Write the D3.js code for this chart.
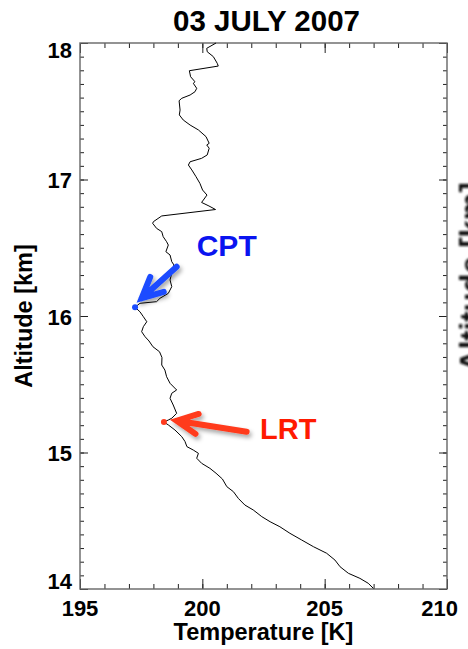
<!DOCTYPE html>
<html>
<head>
<meta charset="utf-8">
<script src="https://cdn.jsdelivr.net/npm/d3@7"></script>
<style>
  body { margin: 0; background: #fff; }
  svg { display: block; }
  text { font-family: "Liberation Sans", Arial, Helvetica, sans-serif; font-weight: bold; }
</style>
</head>
<body>
<svg id="chart" width="468" height="649"></svg>
<script>
// Radiosonde temperature profile, 03 July 2007 (top of profile first)
const altitude = [
  18.000, 17.961, 17.936, 17.900, 17.851, 17.831, 17.797, 17.753, 17.716, 17.705,
  17.668, 17.643, 17.619, 17.595, 17.577, 17.509, 17.473, 17.436, 17.399, 17.363,
  17.314, 17.265, 17.253, 17.229, 17.180, 17.155, 17.130, 17.106, 17.070, 17.021,
  16.972, 16.923, 16.886, 16.832, 16.806, 16.780, 16.733, 16.691, 16.679, 16.642,
  16.618, 16.581, 16.544, 16.520, 16.471, 16.447, 16.398, 16.374, 16.313, 16.264,
  16.215, 16.166, 16.130, 16.105, 16.093, 16.064, 16.031, 15.995, 15.958, 15.922,
  15.885, 15.848, 15.817, 15.775, 15.738, 15.696, 15.641, 15.604, 15.555, 15.507,
  15.458, 15.434, 15.397, 15.348, 15.287, 15.251, 15.238, 15.223, 15.202, 15.165,
  15.116, 15.081, 15.043, 15.018, 14.994, 14.958, 14.921, 14.884, 14.848, 14.806,
  14.750, 14.713, 14.664, 14.615, 14.579, 14.530, 14.493, 14.456, 14.408, 14.359,
  14.310, 14.262, 14.212, 14.163, 14.115, 14.078, 14.042, 14.005
];
const temperature = [
  200.56, 200.18, 200.20, 200.45, 200.61, 200.65, 199.47, 199.52, 199.70, 199.63,
  199.77, 199.70, 199.50, 199.16, 199.05, 199.09, 199.06, 199.22, 199.50, 199.84,
  200.15, 200.28, 200.18, 200.28, 200.20, 199.97, 199.50, 199.43, 199.57, 199.74,
  199.90, 200.01, 200.19, 199.97, 200.27, 200.54, 198.34, 198.00, 197.97, 198.13,
  198.34, 198.40, 198.54, 198.61, 198.51, 198.68, 198.75, 198.84, 198.75, 198.68,
  198.75, 198.61, 198.27, 198.13, 197.45, 197.25, 197.45, 197.59, 197.73, 197.59,
  197.52, 197.66, 197.82, 197.98, 198.25, 198.35, 198.34, 198.47, 198.54, 198.68,
  198.95, 198.75, 198.68, 198.81, 198.95, 198.75, 198.61, 198.43, 198.61, 198.88,
  199.16, 199.29, 199.37, 199.63, 199.84, 199.77, 199.97, 200.31, 200.56, 200.82,
  201.00, 201.27, 201.47, 201.74, 202.08, 202.43, 202.77, 203.17, 203.58, 204.06,
  204.54, 205.08, 205.42, 205.63, 205.97, 206.44, 206.78, 206.99
];

// Tropopause markers: cold point (CPT) and lapse-rate tropopause (LRT)
const markerNames = ["CPT", "LRT"];
const markerTemperature = [197.25, 198.43];
const markerAltitude = [16.064, 15.223];

const xTickValues = [195, 200, 205, 210];
const yTickValues = [14, 15, 16, 17, 18];

const titleText = "03 JULY 2007";
const xTitle = "Temperature [K]";
const yTitle = "Altitude [km]";

const svg = d3.select("#chart");
const W = 468, H = 649;
const margin = { top: 43, right: 21, bottom: 60, left: 80 };

const x = d3.scaleLinear().domain([195, 210]).range([margin.left, W - margin.right]);
const y = d3.scaleLinear().domain([14, 18]).range([H - margin.bottom, margin.top]);

const defs = svg.append("defs");
const shadow = defs.append("filter").attr("id", "shadow")
  .attr("x", "-50%").attr("y", "-50%").attr("width", "200%").attr("height", "200%");
shadow.append("feDropShadow").attr("dx", 2).attr("dy", 3).attr("stdDeviation", 2)
  .attr("flood-color", "#000").attr("flood-opacity", 0.35);
const soft = defs.append("filter").attr("id", "soft");
soft.append("feGaussianBlur").attr("stdDeviation", 1.1);

// Label of the neighbouring panel, cut by the right edge
svg.append("text")
  .attr("transform", `translate(482,277) rotate(-90)`)
  .attr("text-anchor", "middle")
  .attr("font-size", 31)
  .attr("fill", "#111")
  .attr("filter", "url(#soft)")
  .text(yTitle);

// Inward ticks on all four sides
const minorX = d3.range(195, 210.001, 1);
const minorY = d3.range(14, 18.0001, 0.1);
function tickAxis(axisGen, transform) {
  const g = svg.append("g").attr("transform", transform).call(axisGen);
  g.select(".domain").remove();
  g.selectAll("text").remove();
  g.selectAll(".tick line").attr("stroke", "#222").attr("stroke-width", 1);
  return g;
}
tickAxis(d3.axisBottom(x).tickValues(minorX).tickSize(-5), `translate(0,${y(14)})`);
tickAxis(d3.axisBottom(x).tickValues(xTickValues).tickSize(-10), `translate(0,${y(14)})`);
tickAxis(d3.axisTop(x).tickValues(minorX).tickSize(-5), `translate(0,${y(18)})`);
tickAxis(d3.axisTop(x).tickValues(xTickValues).tickSize(-10), `translate(0,${y(18)})`);
tickAxis(d3.axisLeft(y).tickValues(minorY).tickSize(-4), `translate(${x(195)},0)`);
tickAxis(d3.axisLeft(y).tickValues(yTickValues).tickSize(-8), `translate(${x(195)},0)`);
tickAxis(d3.axisRight(y).tickValues(minorY).tickSize(-4), `translate(${x(210)},0)`);
tickAxis(d3.axisRight(y).tickValues(yTickValues).tickSize(-8), `translate(${x(210)},0)`);

// Frame
svg.append("rect")
  .attr("x", x(195)).attr("y", y(18))
  .attr("width", x(210) - x(195)).attr("height", y(14) - y(18))
  .attr("fill", "none").attr("stroke", "#666").attr("stroke-width", 1.4);

// Tick labels
svg.append("g").selectAll("text").data(xTickValues).join("text")
  .attr("x", (d, i) => i === xTickValues.length - 1 ? x(d) + 11 : x(d))
  .attr("y", y(14) + 27)
  .attr("text-anchor", (d, i) => i === xTickValues.length - 1 ? "end" : "middle")
  .attr("font-size", 22)
  .attr("fill", "#000")
  .text(d => d);

svg.append("g").selectAll("text").data(yTickValues).join("text")
  .attr("x", x(195) - 8)
  .attr("y", d => d === 18 ? y(d) + 15 : d === 14 ? y(d) : y(d) + 8.5)
  .attr("text-anchor", "end")
  .attr("font-size", 22)
  .attr("fill", "#000")
  .text(d => d);

// Titles
svg.append("text")
  .attr("x", (x(195) + x(210)) / 2 + 3).attr("y", 31)
  .attr("text-anchor", "middle").attr("font-size", 29.5).attr("fill", "#000")
  .text(titleText);
svg.append("text")
  .attr("x", (x(195) + x(210)) / 2).attr("y", y(14) + 51)
  .attr("text-anchor", "middle").attr("font-size", 23.5).attr("fill", "#000")
  .text(xTitle);
svg.append("text")
  .attr("transform", `translate(32,${(y(14) + y(18)) / 2}) rotate(-90)`)
  .attr("text-anchor", "middle").attr("font-size", 23.5).attr("fill", "#000")
  .text(yTitle);

// Profile
const line = d3.line()
  .x((d, i) => x(temperature[i]))
  .y((d, i) => y(altitude[i]));
svg.append("path")
  .datum(altitude)
  .attr("d", line)
  .attr("fill", "none")
  .attr("stroke", "#000")
  .attr("stroke-width", 1)
  .attr("stroke-linejoin", "miter");

// Callouts: arrow tail, arrow tip and label anchor in data units
const callouts = [
  { color: "#1a4bff", text: "#0a14f0", tail: [198.95, 16.361], tip: [197.52, 16.130], label: [199.77, 16.44], size: 30 },
  { color: "#ff3a1e", text: "#ff1a00", tail: [201.81, 15.152], tip: [198.95, 15.233], label: [202.36, 15.097], size: 29 }
];

function arrowPath(c) {
  const x0 = x(c.tail[0]), y0 = y(c.tail[1]);
  const x1 = x(c.tip[0]), y1 = y(c.tip[1]);
  const a = Math.atan2(y0 - y1, x0 - x1);
  const L = 23, spread = 26 * Math.PI / 180;
  const ax = x1 + L * Math.cos(a - spread), ay = y1 + L * Math.sin(a - spread);
  const bx = x1 + L * Math.cos(a + spread), by = y1 + L * Math.sin(a + spread);
  return `M${x0},${y0}L${x1},${y1}M${ax},${ay}L${x1},${y1}L${bx},${by}`;
}

callouts.forEach((c, i) => {
  svg.append("path")
    .attr("d", arrowPath(c))
    .attr("fill", "none")
    .attr("stroke", c.color)
    .attr("stroke-width", 6)
    .attr("stroke-linecap", "round")
    .attr("stroke-linejoin", "miter")
    .attr("filter", "url(#shadow)");
  svg.append("text")
    .attr("x", x(c.label[0])).attr("y", y(c.label[1]))
    .attr("font-size", c.size)
    .attr("fill", c.text)
    .text(markerNames[i]);
});

// Marker dots
svg.append("g").selectAll("circle").data(markerNames).join("circle")
  .attr("cx", (d, i) => x(markerTemperature[i]))
  .attr("cy", (d, i) => y(markerAltitude[i]))
  .attr("r", 3)
  .attr("fill", (d, i) => callouts[i].color);
</script>
</body>
</html>
